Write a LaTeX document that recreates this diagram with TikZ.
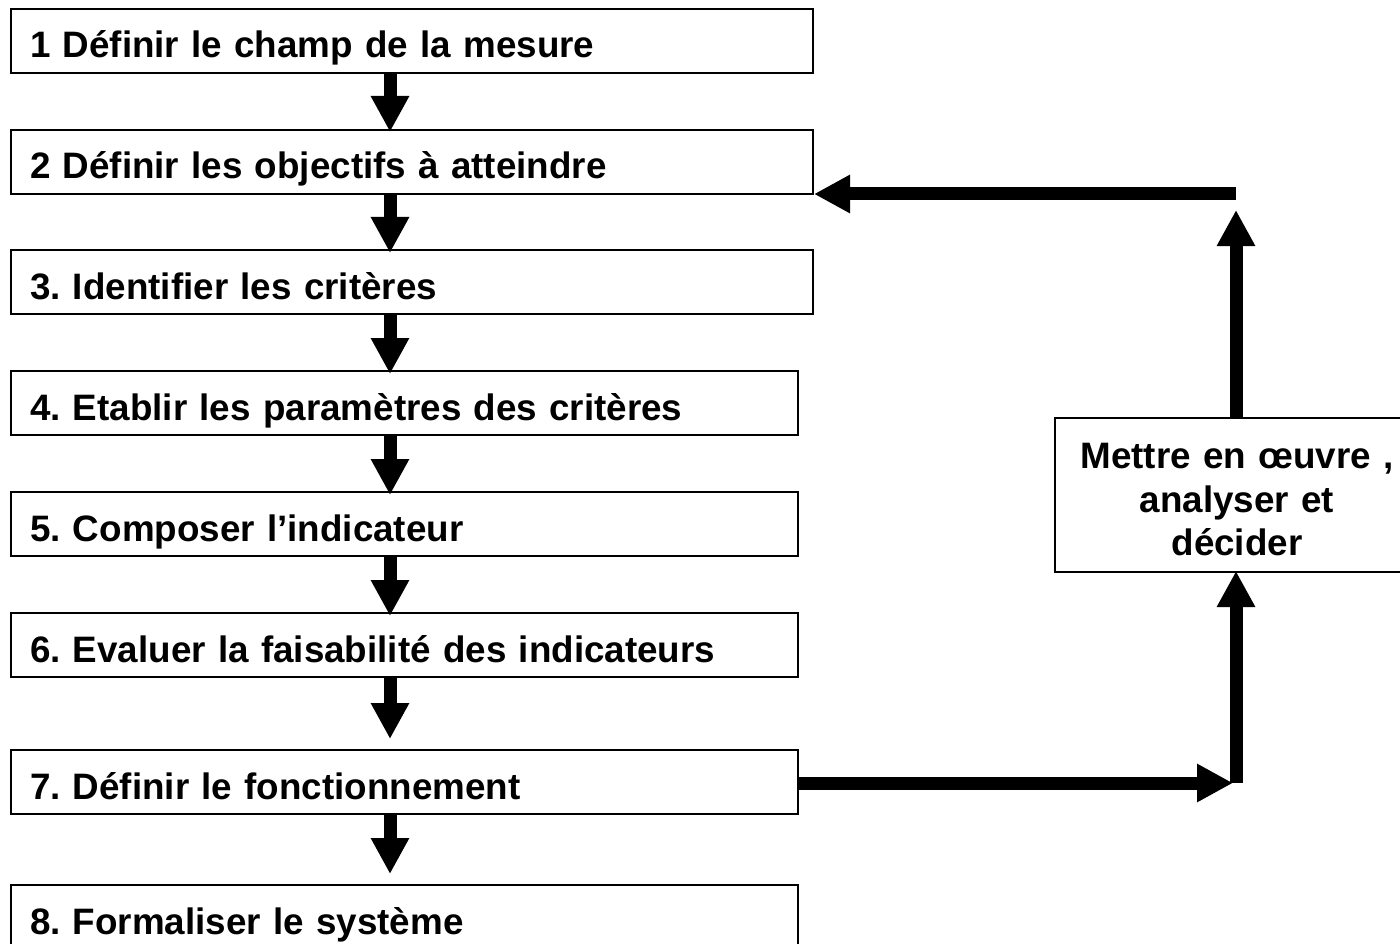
\documentclass[tikz,border=0pt]{standalone}
\usepackage{fontspec}
\setmainfont{Liberation Sans}
\usetikzlibrary{arrows.meta}
\frenchspacing
\begin{document}
\begin{tikzpicture}[x=1pt,y=-1pt,
  txt/.style={font=\fontsize{36.8pt}{43.5pt}\selectfont\bfseries},
  stepbox/.style={txt, draw, line width=2pt, fill=white, anchor=north west, inner xsep=19pt, inner ysep=0pt,
    align=left, text height=49pt, text depth=15pt},
  wide/.style={text width=764pt},
  narrow/.style={text width=749pt},
  flow/.style={line width=13pt, -{Triangle[length=36pt,width=36pt]}}]
\useasboundingbox[fill=white] (0,0) rectangle (1400,944);

\node[stepbox, wide]   (b1) at (10,8)   {1 Définir le champ de la mesure};
\node[stepbox, wide]   (b2) at (10,129) {2 Définir les objectifs à atteindre};
\node[stepbox, wide]   (b3) at (10,249) {3. Identifier les critères};
\node[stepbox, narrow] (b4) at (10,370) {4. Etablir les paramètres des critères};
\node[stepbox, narrow] (b5) at (10,491) {5. Composer l’indicateur};
\node[stepbox, narrow] (b6) at (10,612) {6. Evaluer la faisabilité des indicateurs};
\node[stepbox, narrow] (b7) at (10,749) {7. Définir le fonctionnement};
\node[stepbox, narrow] (b8) at (10,884) {8. Formaliser le système};

\node[txt, draw, line width=2pt, fill=white, anchor=north west, minimum width=364pt, minimum height=154pt,
  text width=344pt, align=center, inner sep=0pt] (rb) at (1054,417)
  {\rule{0pt}{35pt}Mettre en œuvre ,\\ analyser et\\ décider};

\coordinate (ax) at (390,0);
\coordinate (top) at (1236,194);
\coordinate (up) at (1236,210);
\coordinate (low) at (1236,783);

\draw[flow, shorten >=-3pt] (b1.south -| ax) -- (b2.north -| ax);
\draw[flow, shorten >=-4pt] (b2.south -| ax) -- (b3.north -| ax);
\draw[flow, shorten >=-4pt] (b3.south -| ax) -- (b4.north -| ax);
\draw[flow, shorten >=-4pt] (b4.south -| ax) -- (b5.north -| ax);
\draw[flow, shorten >=-4pt] (b5.south -| ax) -- (b6.north -| ax);
\draw[flow, shorten >=10pt] (b6.south -| ax) -- (b7.north -| ax);
\draw[flow, shorten >=10pt] (b7.south -| ax) -- (b8.north -| ax);

\draw[flow] (top) -- (top -| b2.east);
\draw[flow] (rb.north -| up) -- (up);
\draw[flow, shorten >=3pt] (b7.east |- low) -- (low);
\draw[flow, shorten >=-2pt] (low) -- (rb.south -| low);
\end{tikzpicture}
\end{document}
